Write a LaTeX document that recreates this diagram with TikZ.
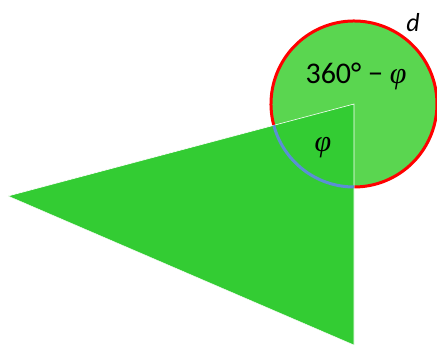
\documentclass[tikz,border=0pt]{standalone}
\usepackage{fontspec}
\setmainfont{Carlito}
\newfontfamily\grk{Liberation Serif}
\newcommand{\phisym}{{\grk\itshape φ}}
\definecolor{tri}{RGB}{51,204,51}
\definecolor{circ}{RGB}{90,214,80}
\definecolor{arcblue}{RGB}{91,143,213}
\begin{document}
\begin{tikzpicture}[x=1pt,y=-1pt,
  lbl/.style={inner sep=0pt, font=\fontsize{30}{34}\selectfont}]
\useasboundingbox (0,0) rectangle (437,347);
\coordinate (O) at (354,104);
\coordinate (L) at (8,196);
\coordinate (B) at (354,345);
\fill[circ] (O) circle[radius=83];
\draw[red, line width=3pt] (O) ++(165.1:83) arc[start angle=165.1, end angle=450, radius=83];
\fill[tri] (O) -- (L) -- (B) -- cycle;
\draw[white, line width=0.6pt] (L) -- (O) -- (B);
\draw[white, line width=0.4pt] (L) -- (B);
\draw[arcblue, line width=3pt] (O) ++(90:83) arc[start angle=90, end angle=165.1, radius=83];
\node[lbl] (t1) at (356,76) {360° − \phisym};
\node[lbl] (t2) at (323,148) {\phisym};
\node[lbl, font=\fontsize{26}{30}\selectfont\itshape] (t3) at (413,23) {d};
\end{tikzpicture}
\end{document}
